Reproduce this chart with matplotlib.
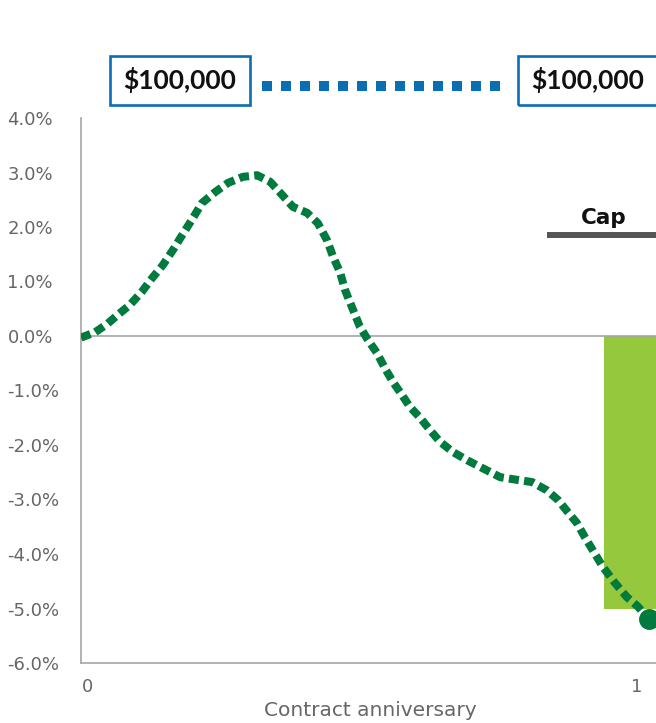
import matplotlib.pyplot as plt
from matplotlib.lines import Line2D
from matplotlib.patches import Rectangle
from matplotlib.transforms import ScaledTranslation

# index path over the contract year (x = fraction of year, y = % change)
path_x = [0.0, 0.025, 0.046, 0.065, 0.086, 0.107, 0.125, 0.144, 0.162, 0.178,
          0.195, 0.213, 0.236, 0.259, 0.285, 0.310, 0.333, 0.354, 0.373, 0.398,
          0.417, 0.433, 0.444, 0.456, 0.465, 0.477, 0.491, 0.505, 0.521, 0.535,
          0.549, 0.565, 0.579, 0.597, 0.614, 0.632, 0.655, 0.680, 0.706, 0.738,
          0.768, 0.794, 0.820, 0.840, 0.857, 0.873, 0.887, 0.901, 0.919, 0.940,
          0.961, 0.981, 1.0]
path_y = [-0.03, 0.07, 0.22, 0.39, 0.57, 0.81, 1.06, 1.30, 1.58, 1.85,
          2.13, 2.44, 2.64, 2.81, 2.92, 2.95, 2.83, 2.59, 2.37, 2.26,
          2.07, 1.76, 1.45, 1.17, 0.84, 0.53, 0.17, -0.07, -0.31, -0.59,
          -0.84, -1.08, -1.30, -1.50, -1.72, -1.94, -2.13, -2.28, -2.42, -2.59,
          -2.64, -2.68, -2.83, -3.01, -3.23, -3.43, -3.69, -3.93, -4.24, -4.53,
          -4.79, -4.97, -5.21]

end_value = -5.2
bar_value = -5.0
cap_value = 1.85
account_value = "$100,000"
y_ticks = [4, 3, 2, 1, 0, -1, -2, -3, -4, -5, -6]
x_ticks = [0, 1]

GREEN = "#007a3d"
LIME = "#95c83d"
BLUE = "#0a6eb4"
GRAY = "#666666"

W, H = 656, 723
fig = plt.figure(figsize=(W / 100, H / 100), dpi=100)
ax = fig.add_axes([81 / W, 60 / H, 1.1 * 568 / W, 545 / H])
ax.set_xlim(0, 1.1)
ax.set_ylim(-6, 4)

# green bar = credited return (floor of the segment)
ax.bar([1.0], [bar_value], width=0.158, color=LIME, zorder=1)
ax.axhline(0, color="#a6a6a6", lw=1.2, zorder=2)

# cap line
ax.plot([0.82, 1.2], [cap_value, cap_value], color="#555555", lw=4.3,
        solid_capstyle="butt", zorder=2)
ax.text(0.921, cap_value + 0.14, "Cap", ha="center", va="bottom",
        fontsize=15.5, fontweight="bold", family="DejaVu Sans", color="#111111")

# index path
ax.plot(path_x, path_y, color=GREEN, lw=5.8, dashes=(1.25, 0.65), zorder=3)
ax.plot([1.0], [end_value], "o", color=GREEN, ms=14, zorder=4)

for s in ["top", "right"]:
    ax.spines[s].set_visible(False)
for s in ["left", "bottom"]:
    ax.spines[s].set_color("#a6a6a6")
    ax.spines[s].set_linewidth(1.2)

ax.set_yticks(y_ticks)
ax.set_yticklabels([f"{v:.1f}%" for v in y_ticks])
ax.tick_params(axis="y", length=0, pad=53, labelsize=13, labelcolor=GRAY)
for lab in ax.get_yticklabels():
    lab.set_horizontalalignment("left")

ax.set_xticks(x_ticks)
ax.set_xticklabels([str(v) for v in x_ticks])
ax.tick_params(axis="x", length=0, pad=11, labelsize=13, labelcolor=GRAY)
shifts = [5 / 72, -9 / 72]
for lab, dx in zip(ax.get_xticklabels(), shifts):
    lab.set_transform(lab.get_transform() + ScaledTranslation(dx, 0, fig.dpi_scale_trans))

fig.text(370 / W, 1 - 711 / H, "Contract anniversary", ha="center", va="center",
         fontsize=14.5, color=GRAY)

# account value boxes and connector
for left, right in [(110, 250), (518, 700)]:
    fig.add_artist(Rectangle((left / W, 1 - 105 / H), (right - left) / W, 49 / H,
                             transform=fig.transFigure, fill=False,
                             edgecolor=BLUE, lw=1.9))
fig.text(180 / W, 1 - 80 / H, account_value, ha="center", va="center",
         fontsize=19, fontweight="bold", family="Lato", color="#111111")
fig.text(531 / W, 1 - 80 / H, account_value, ha="left", va="center",
         fontsize=19, fontweight="bold", family="Lato", color="#111111")
fig.add_artist(Line2D([262 / W, 508 / W], [1 - 86 / H, 1 - 86 / H],
                      transform=fig.transFigure, color=BLUE, lw=7.2,
                      dashes=(1.0, 0.9)))

fig.savefig("out.png", dpi=100)
